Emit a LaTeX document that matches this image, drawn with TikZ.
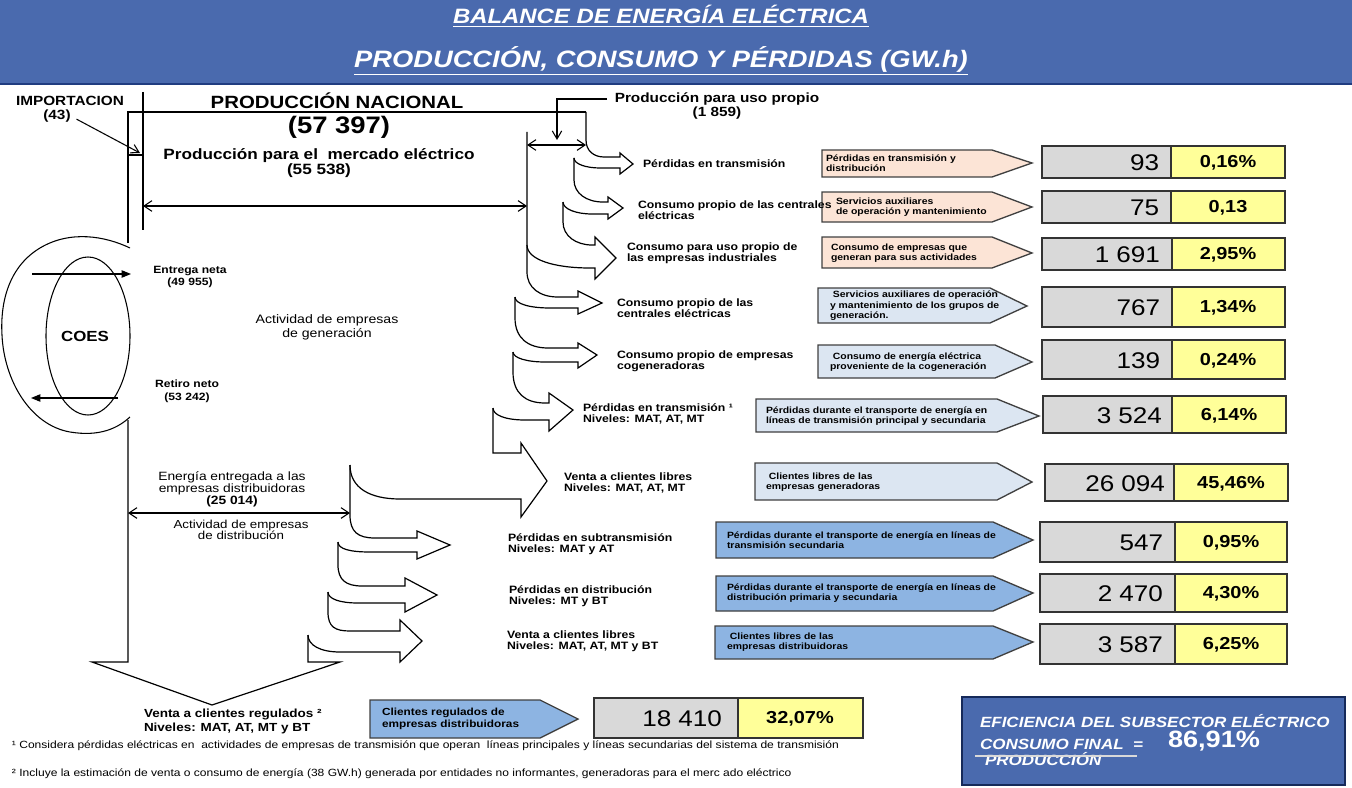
\documentclass[tikz,border=0pt]{standalone}
\usepackage{fontspec}
\setmainfont{Liberation Sans}[FakeStretch=1.15]
\usepackage{tikz}
\usetikzlibrary{arrows.meta}

\definecolor{hdrblue}{RGB}{74,106,174}
\definecolor{hdrdark}{RGB}{32,60,128}
\definecolor{peach}{RGB}{252,228,214}
\definecolor{paleblue}{RGB}{220,230,242}
\definecolor{midblue}{RGB}{141,180,226}
\definecolor{numgrey}{RGB}{217,217,217}
\definecolor{pctyellow}{RGB}{255,255,153}

\begin{document}
\begin{tikzpicture}[
  x=0.75pt, y=-0.75pt,
  every node/.style={inner sep=0pt, outer sep=0pt},
  line/.style={line width=0.8pt},
  flow/.style={line width=0.9pt, line join=miter},
  dblarrow/.style={line width=0.8pt,
    {Straight Barb[length=6pt,width=8pt]}-{Straight Barb[length=6pt,width=8pt]}},
  openarrow/.style={line width=0.8pt, -{Straight Barb[length=6pt,width=7pt]}},
  solidarrow/.style={line width=0.8pt, -{Triangle[length=7pt,width=5.5pt]}},
  ttl/.style={text=white},
  lbl/.style={anchor=west, align=left,
    font=\fontsize{8}{8.4}\selectfont\bfseries},
  tagA/.style={fill=peach, draw=black!75, line width=1pt},
  tagB/.style={fill=paleblue, draw=black!75, line width=1pt},
  tagC/.style={fill=midblue, draw=black!75, line width=1pt},
  tagtxt/.style={anchor=west, align=left,
    font=\fontsize{6.8}{7.8}\selectfont\bfseries},
  numbox/.style={fill=numgrey, draw=black!80, line width=1pt},
  pctbox/.style={fill=pctyellow, draw=black!80, line width=1pt},
  numtxt/.style={anchor=east, font=\fontsize{17}{20}\selectfont},
  pcttxt/.style={font=\fontsize{13}{15}\selectfont\bfseries},
  efftxt/.style={anchor=west, text=white,
    font=\fontsize{11.1}{13}\selectfont\bfseries\itshape},
  foot/.style={anchor=west, font=\fontsize{7.85}{9}\selectfont},
]
  \useasboundingbox (0,0) rectangle (1352,788);

  % Header band
  \fill[hdrblue] (0,0) rectangle (1352,84);
  \draw[hdrdark, line width=1.5pt] (0,84) -- (1352,84);
  \node[ttl, font=\fontsize{15.6}{18}\selectfont\bfseries\itshape] (title1)
    at (661,16) {\underline{BALANCE DE ENERGÍA ELÉCTRICA}};
  \node[ttl, font=\fontsize{17.8}{20}\selectfont\bfseries\itshape] (title2)
    at (661,61) {\underline{PRODUCCIÓN, CONSUMO Y PÉRDIDAS (GW.h)}};

  % Importacion and production frame
  \node[font=\fontsize{10}{11}\selectfont\bfseries] (imp) at (70,101) {IMPORTACION};
  \node[font=\fontsize{10}{11}\selectfont\bfseries] (impval) at (57,116) {(43)};
  \coordinate (impend) at (140,153);
  \draw[openarrow, shorten <=5pt] (impval.east) -- (impend);
  \draw[line] (128,243) -- (128,112) -- (586,112);
  \draw[line] (143,92) -- (143,230);
  \draw[line] (128,155) -- (143,155);
  \node[font=\fontsize{13.3}{15}\selectfont\bfseries] (pnac) at (337,101)
    {PRODUCCIÓN NACIONAL};
  \node[font=\fontsize{17.9}{20}\selectfont\bfseries] (pnacval) at (339,127)
    {(57 397)};
  \node[align=center, font=\fontsize{11.2}{9.3}\selectfont\bfseries] (pmer)
    at (319,163) {Producción para el~ mercado eléctrico\\(55 538)};
  \coordinate (pmerl) at (143,206);
  \coordinate (pmerr) at (527,206);
  \draw[dblarrow] (pmerl) -- (pmerr);

  % Produccion para uso propio
  \node[align=center, font=\fontsize{10}{10.5}\selectfont\bfseries] (puso)
    at (717,106) {Producción para uso propio\\(1 859)};
  \coordinate (pusofrom) at (607,99);
  \coordinate (pusotip) at (557,140);
  \draw[openarrow] (pusofrom) -| (pusotip);
  \coordinate (pusol) at (527,145);
  \coordinate (pusor) at (586,145);
  \draw[dblarrow] (pusol) -- (pusor);

  % Flow arrows, generation side
  \draw[flow] (586,112) -- (586,140) .. controls (586,151) and (594,157) .. (604,157)
    -- (620,157) -- (620,153) -- (633,164) -- (620,174) -- (620,168)
    -- (600,168) .. controls (586,168) and (574,164) .. (574,158);
  \draw[flow] (574,158) -- (574,180) .. controls (574,193) and (586,202) .. (603,202)
    -- (608,202) -- (608,197) -- (623,208) -- (608,219) -- (608,214)
    -- (592,214) .. controls (576,214) and (563,209) .. (563,202);
  \draw[flow] (563,202) -- (563,222) .. controls (563,236) and (576,245) .. (592,245)
    -- (595,245) -- (595,237) -- (616,258) -- (595,279) -- (595,268)
    -- (590,268) .. controls (555,268) and (527,260) .. (527,245);
  \draw[flow] (527,132) -- (527,272) .. controls (527,288) and (540,297) .. (558,297)
    -- (578,297) -- (578,291) -- (602,303) -- (578,314) -- (578,308)
    -- (550,308) .. controls (530,308) and (515,304) .. (515,297);
  \draw[flow] (515,297) -- (515,318) .. controls (515,338) and (528,348) .. (548,348)
    -- (578,348) -- (578,343) -- (597,355) -- (578,368) -- (578,362)
    -- (545,362) .. controls (527,362) and (513,358) .. (513,352);
  \draw[flow] (513,352) -- (513,372) .. controls (513,393) and (525,403) .. (545,403)
    -- (549,403) -- (549,393) -- (573,410) -- (549,431) -- (549,420)
    -- (525,420) .. controls (505,420) and (493,415) .. (493,408);
  \draw[flow] (493,408) -- (493,453) -- (521,453) -- (521,443)
    -- (547,481) -- (521,517) -- (521,499)
    -- (400,499) .. controls (370,499) and (350,488) .. (350,465);

  % Flow arrows, distribution side
  \draw[flow] (350,465) -- (350,515) .. controls (350,532) and (358,538) .. (375,538)
    -- (417,538) -- (417,531) -- (450,545) -- (417,559) -- (417,552)
    -- (370,552) .. controls (350,552) and (338,549) .. (338,542);
  \draw[flow] (338,542) -- (338,565) .. controls (338,580) and (346,586) .. (362,586)
    -- (405,586) -- (405,578) -- (437,595) -- (405,612) -- (405,603)
    -- (358,603) .. controls (340,603) and (328,599) .. (328,592);
  \draw[flow] (328,592) -- (328,612) .. controls (328,627) and (335,631) .. (350,631)
    -- (400,631) -- (400,620) -- (422,641) -- (400,662) -- (400,652)
    -- (340,652) .. controls (320,652) and (308,645) .. (308,635);
  \draw[flow] (308,635) -- (308,662) -- (340,662) -- (212,705)
    -- (92,662) -- (128,662) -- (128,420);

  % COES
  \draw[line] (130,248) .. controls (105,236) and (70,230) .. (40,248)
    .. controls (10,266) and (0,300) .. (2,335)
    .. controls (4,380) and (30,425) .. (70,432)
    .. controls (100,437) and (118,428) .. (130,417);
  \draw[line] (88,336) ellipse [x radius=31.5pt, y radius=59.25pt];
  \node[font=\fontsize{11}{12}\selectfont\bfseries] (coes) at (85,336) {COES};
  \coordinate (enfrom) at (32,274);
  \coordinate (ento) at (131,274);
  \draw[solidarrow] (enfrom) -- (ento);
  \coordinate (rnfrom) at (118,398);
  \coordinate (rnto) at (31,398);
  \draw[solidarrow] (rnfrom) -- (rnto);
  \node[align=center, font=\fontsize{7.9}{9.5}\selectfont\bfseries] (entrega)
    at (190,277) {Entrega neta\\(49 955)};
  \node[align=center, font=\fontsize{7.9}{9.5}\selectfont\bfseries] (retiro)
    at (187,391) {Retiro neto\\(53 242)};
  \node[align=center, font=\fontsize{9.2}{10.5}\selectfont] (actgen)
    at (327,327) {Actividad de empresas\\de generación};

  % Distribution side labels
  \node[align=center, font=\fontsize{9}{9}\selectfont] (edist) at (232,489)
    {Energía entregada a las\\empresas distribuidoras\\\textbf{(25 014)}};
  \coordinate (edistl) at (128,513);
  \coordinate (edistr) at (350,513);
  \draw[dblarrow] (edistl) -- (edistr);
  \node[align=center, font=\fontsize{8.7}{8.4}\selectfont] (actdis)
    at (241,530) {Actividad de empresas\\de distribución};
  \node[anchor=west, align=left, font=\fontsize{8.8}{10.5}\selectfont\bfseries]
    (vreg) at (144,721) {Venta a clientes regulados ²\\Niveles: MAT, AT, MT y BT};

  % Description tags
  \draw[tagA] (822,150) -- (992,150) -- (1032,163) -- (992,177) -- (822,177) -- cycle;
  \node[tagtxt] (d1) at (826,163) {Pérdidas en transmisión y\\distribución};
  \draw[tagA] (822,192) -- (992,192) -- (1032,207) -- (992,222) -- (822,222) -- cycle;
  \node[tagtxt] (d2) at (836,207) {Servicios auxiliares\\de operación y mantenimiento};
  \draw[tagA] (822,237) -- (992,237) -- (1032,253) -- (992,268) -- (822,268) -- cycle;
  \node[tagtxt] (d3) at (831,253) {Consumo de empresas que\\generan para sus actividades};
  \draw[tagB] (818,288) -- (990,288) -- (1027,306) -- (990,323) -- (818,323) -- cycle;
  \node[tagtxt] (d4) at (830,306)
    {~Servicios auxiliares de operación\\y mantenimiento de los grupos de\\generación.};
  \draw[tagB] (818,345) -- (995,345) -- (1032,362) -- (995,378) -- (818,378) -- cycle;
  \node[tagtxt] (d5) at (830,362) {~Consumo de energía eléctrica\\proveniente de la cogeneración};
  \draw[tagB] (756,399) -- (997,399) -- (1039,416) -- (997,432) -- (756,432) -- cycle;
  \node[tagtxt] (d6) at (766,416)
    {Pérdidas durante el transporte de energía en\\líneas de transmisión principal y secundaria};
  \draw[tagB] (755,463) -- (997,463) -- (1032,482) -- (997,500) -- (755,500) -- cycle;
  \node[tagtxt] (d7) at (766,482) {~Clientes libres de las\\empresas generadoras};
  \draw[tagC] (716,522) -- (993,522) -- (1033,540) -- (993,558) -- (716,558) -- cycle;
  \node[tagtxt] (d8) at (727,540)
    {Pérdidas durante el transporte de energía en líneas de\\transmisión secundaria};
  \draw[tagC] (716,576) -- (993,576) -- (1033,593) -- (993,611) -- (716,611) -- cycle;
  \node[tagtxt] (d9) at (727,593)
    {Pérdidas durante el transporte de energía en líneas de\\distribución primaria y secundaria};
  \draw[tagC] (715,626) -- (993,626) -- (1033,642) -- (993,659) -- (715,659) -- cycle;
  \node[tagtxt] (d10) at (727,642) {~Clientes libres de las\\empresas distribuidoras};
  \draw[tagC] (370,700) -- (540,700) -- (578,719) -- (540,738) -- (370,738) -- cycle;
  \node[tagtxt, font=\fontsize{7.7}{9}\selectfont\bfseries] (d11) at (382,719)
    {Clientes regulados de\\empresas distribuidoras};

  % Flow labels
  \node[lbl] (l1) at (643,164) {Pérdidas en transmisión};
  \node[lbl] (l2) at (638,210) {Consumo propio de las centrales\\eléctricas};
  \node[lbl] (l3) at (627,253) {Consumo para uso propio de\\las empresas industriales};
  \node[lbl] (l4) at (617,308) {Consumo propio de las\\centrales eléctricas};
  \node[lbl] (l5) at (617,361) {Consumo propio de empresas\\cogeneradoras};
  \node[lbl] (l6) at (583,414) {Pérdidas en transmisión ¹\\Niveles: MAT, AT, MT};
  \node[lbl] (l7) at (564,483) {Venta a clientes libres\\Niveles: MAT, AT, MT};
  \node[lbl] (l8) at (508,544) {Pérdidas en subtransmisión\\Niveles: MAT y AT};
  \node[lbl] (l9) at (509,596) {Pérdidas en distribución\\Niveles: MT y BT};
  \node[lbl] (l10) at (507,641) {Venta a clientes libres\\Niveles: MAT, AT, MT y BT};

  % Values and shares
  \draw[numbox] (1042,146) rectangle (1171,178);
  \draw[pctbox] (1171,146) rectangle (1285,178);
  \node[numtxt] (n1) at (1159,163) {93};
  \node[pcttxt] (p1) at (1228,163) {0,16\%};
  \draw[numbox] (1042,191) rectangle (1171,223);
  \draw[pctbox] (1171,191) rectangle (1285,223);
  \node[numtxt] (n2) at (1159,208) {75};
  \node[pcttxt] (p2) at (1228,208) {0,13};
  \draw[numbox] (1042,238) rectangle (1172,270);
  \draw[pctbox] (1172,238) rectangle (1285,270);
  \node[numtxt] (n3) at (1160,255) {1 691};
  \node[pcttxt] (p3) at (1228,255) {2,95\%};
  \draw[numbox] (1042,287) rectangle (1172,327);
  \draw[pctbox] (1172,287) rectangle (1285,327);
  \node[numtxt] (n4) at (1160,308) {767};
  \node[pcttxt] (p4) at (1228,308) {1,34\%};
  \draw[numbox] (1042,340) rectangle (1172,379);
  \draw[pctbox] (1172,340) rectangle (1285,379);
  \node[numtxt] (n5) at (1160,361) {139};
  \node[pcttxt] (p5) at (1228,361) {0,24\%};
  \draw[numbox] (1043,396) rectangle (1172,433);
  \draw[pctbox] (1172,396) rectangle (1286,433);
  \node[numtxt] (n6) at (1162,416) {3 524};
  \node[pcttxt] (p6) at (1229,416) {6,14\%};
  \draw[numbox] (1045,464) rectangle (1174,501);
  \draw[pctbox] (1174,464) rectangle (1288,501);
  \node[numtxt] (n7) at (1165,484) {26 094};
  \node[pcttxt] (p7) at (1231,484) {45,46\%};
  \draw[numbox] (1040,522) rectangle (1175,562);
  \draw[pctbox] (1175,522) rectangle (1287,562);
  \node[numtxt] (n8) at (1163,543) {547};
  \node[pcttxt] (p8) at (1231,543) {0,95\%};
  \draw[numbox] (1040,574) rectangle (1175,612);
  \draw[pctbox] (1175,574) rectangle (1287,612);
  \node[numtxt] (n9) at (1163,594) {2 470};
  \node[pcttxt] (p9) at (1231,594) {4,30\%};
  \draw[numbox] (1040,624) rectangle (1175,664);
  \draw[pctbox] (1175,624) rectangle (1287,664);
  \node[numtxt] (n10) at (1163,645) {3 587};
  \node[pcttxt] (p10) at (1231,645) {6,25\%};
  \draw[numbox] (594,698) rectangle (738,738);
  \draw[pctbox] (738,698) rectangle (863,738);
  \node[numtxt] (n11) at (722,719) {18 410};
  \node[pcttxt] (p11) at (800,719) {32,07\%};

  % Footnotes
  \node[foot] (fn1) at (12,746)
    {¹ Considera pérdidas eléctricas en~ actividades de empresas de transmisión que operan~ líneas principales y líneas secundarias del sistema de transmisión};
  \node[foot] (fn2) at (12,774)
    {² Incluye la estimación de venta o consumo de energía (38 GW.h) generada por entidades no informantes, generadoras para el merc ado eléctrico};

  % Efficiency box
  \draw[fill=hdrblue, draw=hdrdark!70!black, line width=1pt] (962,697) rectangle (1345,785);
  \node[efftxt] (eff1) at (980,721) {EFICIENCIA DEL SUBSECTOR ELÉCTRICO};
  \node[efftxt] (eff2) at (980,744) {CONSUMO FINAL~ =};
  \node[anchor=west, text=white, font=\fontsize{17.7}{20}\selectfont\bfseries]
    (eff3) at (1168,741) {86,91\%};
  \node[efftxt] (eff4) at (985,759) {PRODUCCIÓN};
  \draw[white!85!black, line width=1pt] (975,756) -- (1137,756);
\end{tikzpicture}
\end{document}
